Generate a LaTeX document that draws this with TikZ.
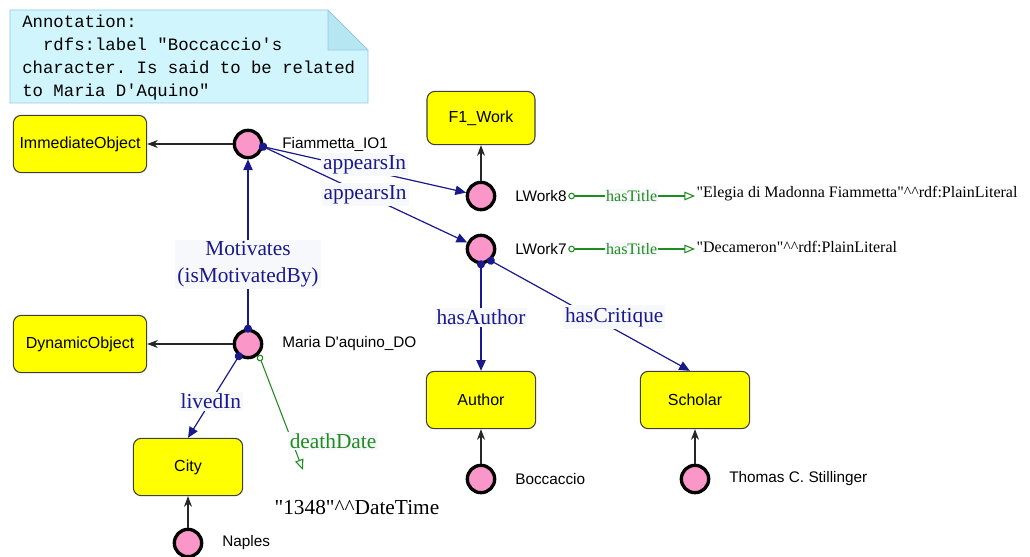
\documentclass[tikz,border=0pt]{standalone}
\usepackage{fontspec}
\setmainfont{Liberation Serif}
\setsansfont{Liberation Sans}
\setmonofont{Liberation Mono}
\usetikzlibrary{arrows.meta, positioning}
\definecolor{boxyellow}{RGB}{255,255,0}
\definecolor{instpink}{RGB}{250,150,200}
\definecolor{relblue}{RGB}{25,25,140}
\definecolor{datgreen}{RGB}{30,140,30}
\definecolor{lblbg}{RGB}{247,248,251}
\definecolor{notefill}{RGB}{208,245,252}
\definecolor{notefold}{RGB}{182,230,242}
\definecolor{noteline}{RGB}{150,200,230}
\newcommand\qq{\textquotedbl}

\begin{document}
\begin{tikzpicture}[
        x=0.75pt, y=-0.75pt,
        cls/.style = {rectangle, rounded corners=6pt, draw=black!75, line width=0.8pt, fill=boxyellow, minimum width=82pt, minimum height=43pt, font=\sffamily\fontsize{12}{14}\selectfont},
        inst/.style = {circle, draw=black, line width=2.5pt, fill=instpink, minimum size=20.5pt, inner sep=0pt},
        tag/.style = {font=\sffamily\fontsize{11.5}{13}\selectfont, inner sep=1pt, anchor=west},
        lit/.style = {font=\fontsize{12}{14}\selectfont, inner sep=1pt, anchor=west},
        isa/.style = {-{Stealth[length=8pt, width=6pt]}, line width=0.8pt, black!85},
        rel/.style = {{Circle[length=6pt]}-{Triangle[length=8pt, width=7pt]}, line width=0.9pt, relblue, shorten <=-3pt},
        dat/.style = {{Circle[open, length=5pt]}-{Triangle[open, length=8pt, width=6.5pt]}, line width=0.8pt, datgreen},
        rellbl/.style = {fill=lblbg, inner sep=1.5pt, text=relblue, font=\fontsize{16}{20}\selectfont},
        datlbl/.style = {fill=lblbg, inner sep=1pt, text=datgreen, font=\fontsize{12}{14}\selectfont},
        node distance=13pt,
    ]
        \fill[white] (0,0) rectangle (1030,556);
        \useasboundingbox (0,0) rectangle (1030,556);

        % annotation note
        \fill[notefill] (10,10) -- (328,10) -- (368,50) -- (368,103) -- (10,103) -- cycle;
        \filldraw[fill=notefold, draw=noteline] (328,10) -- (328,50) -- (368,50) -- cycle;
        \draw[noteline] (10,10) -- (328,10) -- (368,50) -- (368,103) -- (10,103) -- cycle;
        \node[anchor=north west, inner sep=0pt, align=left, font=\ttfamily\fontsize{13}{17.25}\selectfont] (note) at (22,15) {Annotation:\\
            \phantom{xx}rdfs:label "Boccaccio's\\
            character. Is said to be related\\
            to Maria D'Aquino"};

        % classes
        \node[cls, minimum width=100pt] (imm) at (80,144) {ImmediateObject};
        \node[cls, minimum width=100pt] (dyn) at (80,344) {DynamicObject};
        \node[cls, minimum width=81pt, minimum height=40pt] (f1) at (481,118) {F1\_Work};
        \node[cls] (auth) at (481,400) {Author};
        \node[cls] (sch) at (695,400) {Scholar};
        \node[cls] (city) at (188,467) {City};

        % individuals
        \node[inst] (fia) at (248,144) {};
        \node[inst] (lw8) at (481,196) {};
        \node[inst] (lw7) at (481,249) {};
        \node[inst] (mar) at (248,344) {};
        \node[inst] (boc) at (481,479) {};
        \node[inst] (tho) at (695,479) {};
        \node[inst] (nap) at (188,543) {};
        \foreach \n/\t in {fia/Fiammetta\_IO1, mar/Maria D\textquotesingle aquino\_DO, lw8/LWork8, lw7/LWork7, boc/Boccaccio, tho/Thomas C. Stillinger, nap/Naples}{
            \node[tag, right=of \n] (\n-tag) {\t};
        }

        % literals
        \node[lit] (lit8) at (695,194) {\qq Elegia di Madonna Fiammetta\qq\textasciicircum\textasciicircum rdf:PlainLiteral};
        \node[lit] (lit7) at (695,247) {\qq Decameron\qq\textasciicircum\textasciicircum rdf:PlainLiteral};
        \node[lit, font=\fontsize{16}{18}\selectfont] (lit1348) at (273,508) {\qq 1348\qq\textasciicircum\textasciicircum DateTime};
        \coordinate (dd-end) at (303,470);

        \draw[isa] (fia) -- (imm);
        \draw[isa] (mar) -- (dyn);
        \draw[isa] (lw8) -- (f1);
        \draw[isa] (boc) -- (auth);
        \draw[isa] (tho) -- (sch);
        \draw[isa] (nap) -- (city);

        \draw[rel] (mar.north) -- (fia.south) node[rellbl, pos=0.38, align=center] {Motivates\\(isMotivatedBy)};
        \draw[rel] (fia.-10) -- (lw8) node[rellbl, pos=0.5, yshift=4pt] {appearsIn};
        \draw[rel] (fia.-10) -- (lw7) node[rellbl, pos=0.5] {appearsIn};
        \draw[rel] (lw7.south) -- (auth.north) node[rellbl, midway] {hasAuthor};
        \draw[rel] (lw7.-50) -- (sch.100) node[rellbl, pos=0.62, yshift=9pt] {hasCritique};
        \draw[rel] (mar.-127) -- (city.north) node[rellbl, pos=0.55] {livedIn};

        \draw[dat] (mar.-45) -- (dd-end) node[datlbl, pos=0.75, anchor=west, xshift=-3pt, font=\fontsize{16}{18}\selectfont] {deathDate};
        \draw[dat] (lw8-tag.east) -- (lw8-tag.east -| lit8.west) node[datlbl, midway] {hasTitle};
        \draw[dat] (lw7-tag.east) -- (lw7-tag.east -| lit7.west) node[datlbl, midway] {hasTitle};
    \end{tikzpicture}
\end{document}
